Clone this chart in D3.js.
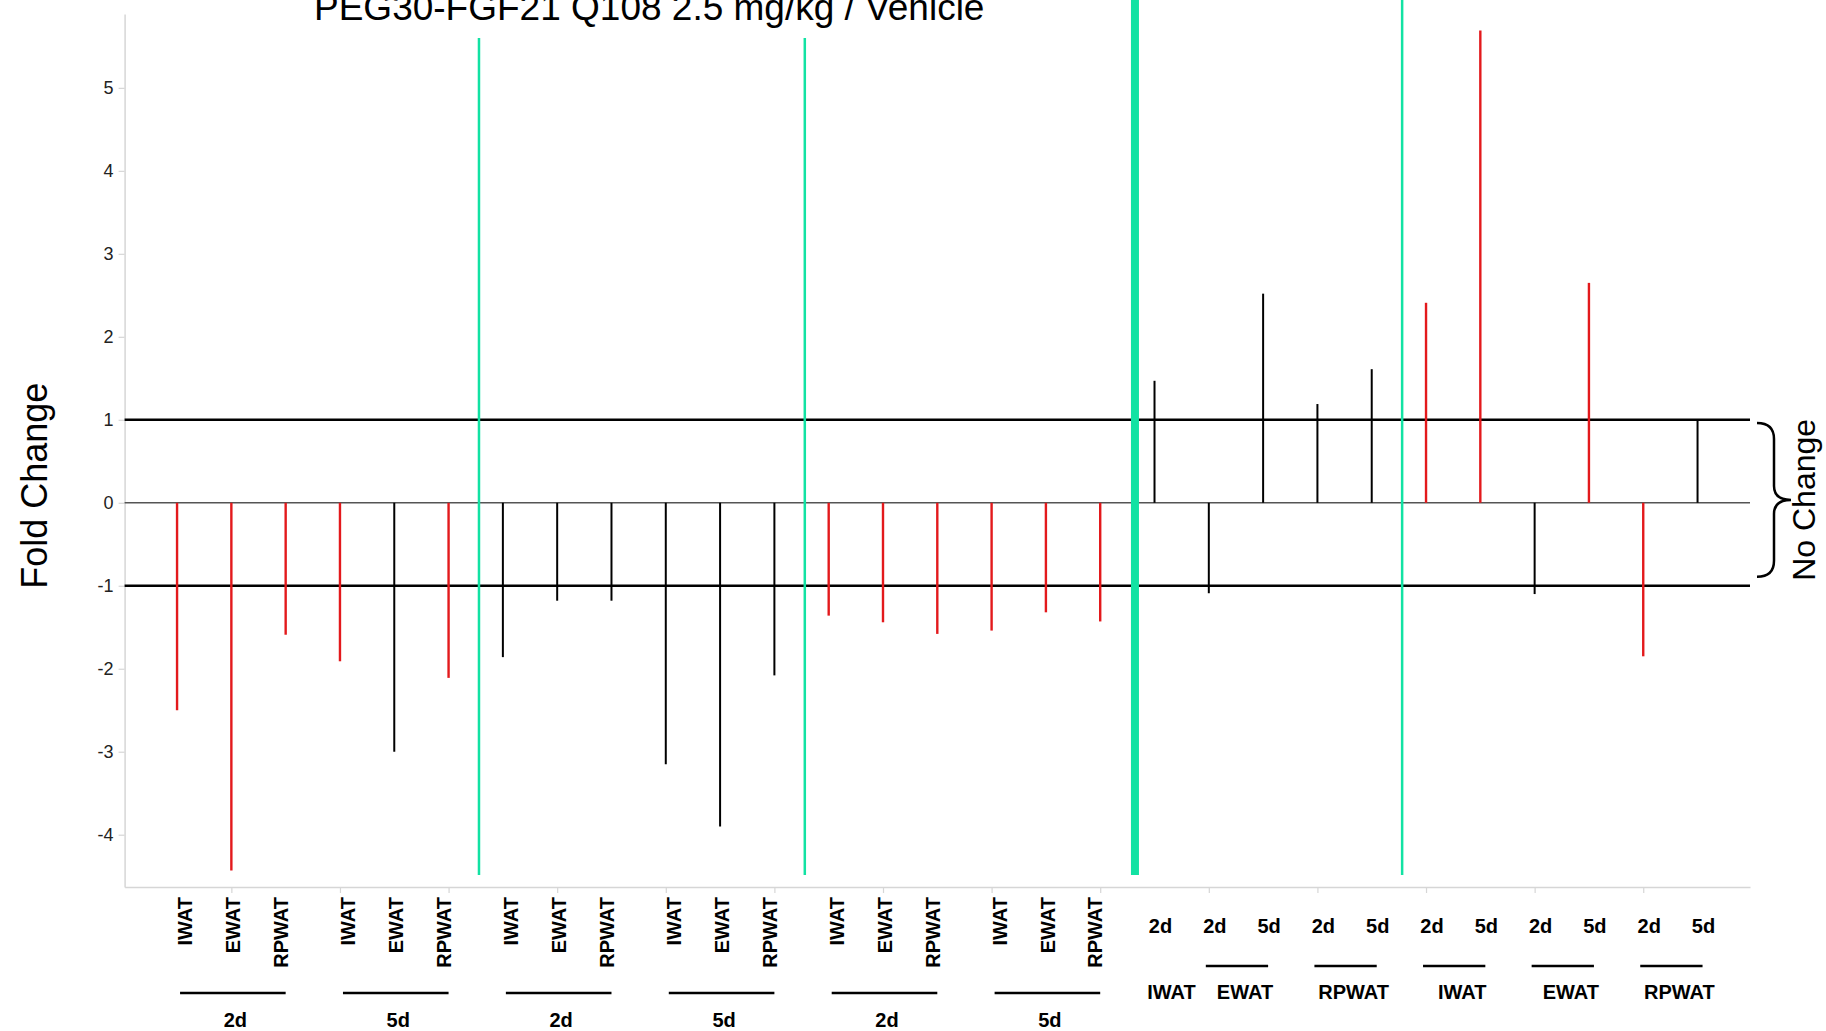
<!DOCTYPE html>
<html>
<head>
<meta charset="utf-8">
<script src="https://cdn.jsdelivr.net/npm/d3@7"></script>
<style>
  body { margin: 0; background: #fff; }
  text { font-family: "Liberation Sans", Arial, sans-serif; }
</style>
</head>
<body>
<div id="chart"></div>
<script>
// one entry per bar, left to right
const tissues = ['IWAT','EWAT','RPWAT','IWAT','EWAT','RPWAT',
                 'IWAT','EWAT','RPWAT','IWAT','EWAT','RPWAT',
                 'IWAT','EWAT','RPWAT','IWAT','EWAT','RPWAT',
                 'IWAT','EWAT','EWAT','RPWAT','RPWAT','IWAT','IWAT','EWAT','EWAT','RPWAT','RPWAT'];
const times = ['2d','2d','2d','5d','5d','5d',
               '2d','2d','2d','5d','5d','5d',
               '2d','2d','2d','5d','5d','5d',
               '2d','2d','5d','2d','5d','2d','5d','2d','5d','2d','5d'];
const values = [-2.50, -4.43, -1.59, -1.91, -3.00, -2.11,
                -1.86, -1.18, -1.18, -3.15, -3.90, -2.08,
                -1.36, -1.44, -1.58, -1.54, -1.32, -1.43,
                1.47, -1.09, 2.52, 1.19, 1.61, 2.41, 5.69, -1.10, 2.65, -1.85, 1.00];
// red bars = highlighted
const highlight = [1,1,1,1,0,1, 0,0,0,0,0,0, 1,1,1,1,1,1,
                   0,0,0,0,0,1,1,0,1,1,0];
const leftCount = 18;           // bars with rotated tissue labels
const dividersAfter = [5, 11, 17, 22];
const thickDivider = 17;
const yTicks = [-4, -3, -2, -1, 0, 1, 2, 3, 4, 5];
const refLines = [1, -1];
const title = 'PEG30-FGF21 Q108 2.5 mg/kg / Vehicle';

const W = 1826, H = 1031;
const red = '#e3191c', green = '#12e2a3', axisGray = '#d6d6d6';

const svg = d3.select('#chart').append('svg')
    .attr('width', W)
    .attr('height', H);

const idx = d3.range(values.length);
const x = d3.scalePoint().domain(idx).range([124.6, 1750]).padding(0.966);
const y = d3.scaleLinear().domain([-4.63, 5.89]).range([887, 14]);
const step = x.step();

// y axis
let yAxis = svg.append('g')
  .attr('transform', `translate(${x.range()[0]},0)`)
  .call(d3.axisLeft(y).tickValues(yTicks).tickSize(6).tickSizeOuter(0).tickPadding(5)
    .tickFormat(d => String(d)));
yAxis.select('.domain').attr('stroke', axisGray).attr('stroke-width', 1.5);
yAxis.selectAll('.tick line').attr('stroke', axisGray).attr('stroke-width', 1.2);
yAxis.selectAll('.tick text')
  .attr('font-size', 18)
  .attr('font-family', '"Liberation Sans", Arial, sans-serif')
  .attr('fill', '#222');

// x axis
let xAxis = svg.append('g')
  .attr('transform', `translate(0,${y.range()[0]})`)
  .call(d3.axisBottom(x).tickValues(idx.filter(i => i % 2 === 1)).tickSize(6).tickSizeOuter(0)
    .tickFormat(''));
xAxis.select('.domain').attr('stroke', axisGray).attr('stroke-width', 1.5);
xAxis.selectAll('.tick line').attr('stroke', axisGray).attr('stroke-width', 1.2);

// zero line and +/-1 lines
svg.append('line')
  .attr('x1', x.range()[0]).attr('x2', x.range()[1])
  .attr('y1', y(0)).attr('y2', y(0))
  .attr('stroke', '#555').attr('stroke-width', 1.5);
svg.selectAll('.ref')
  .data(refLines)
  .enter()
  .append('line')
    .attr('class', 'ref')
    .attr('x1', x.range()[0]).attr('x2', x.range()[1])
    .attr('y1', d => y(d)).attr('y2', d => y(d))
    .attr('stroke', '#000').attr('stroke-width', 2.4);

// bars as vertical lines from zero
svg.selectAll('.bar')
  .data(idx)
  .enter()
  .append('line')
    .attr('class', 'bar')
    .attr('x1', i => x(i)).attr('x2', i => x(i))
    .attr('y1', y(0)).attr('y2', i => y(values[i]))
    .attr('stroke', i => highlight[i] ? red : '#000')
    .attr('stroke-width', i => highlight[i] ? 2.4 : 2);

// green dividers
svg.selectAll('.divider')
  .data(dividersAfter)
  .enter()
  .append('line')
    .attr('class', 'divider')
    .attr('x1', d => x(d) + step * (d === thickDivider ? 0.64 : 0.56))
    .attr('x2', d => x(d) + step * (d === thickDivider ? 0.64 : 0.56))
    .attr('y1', d => d < thickDivider ? 38 : 0)
    .attr('y2', 875)
    .attr('stroke', green)
    .attr('stroke-width', d => d === thickDivider ? 8 : 2.5);

// title (runs off the top edge, as in the source figure)
svg.append('text')
  .attr('x', 314).attr('y', 20)
  .attr('font-size', 37)
  .text(title);

// y axis title
svg.append('text')
  .attr('transform', `translate(47,${y(0) - 17}) rotate(-90)`)
  .attr('text-anchor', 'middle')
  .attr('font-size', 36)
  .text('Fold Change');

// brace + "No Change"
const bx = x.range()[1] + 7, bTop = y(0.96), bBot = y(-0.89), bMid = (bTop + bBot) / 2;
const brace = d3.path();
brace.moveTo(bx, bTop);
brace.quadraticCurveTo(bx + 17, bTop, bx + 17, bTop + 16);
brace.lineTo(bx + 17, bMid - 14);
brace.quadraticCurveTo(bx + 17, bMid, bx + 34, bMid);
brace.quadraticCurveTo(bx + 17, bMid, bx + 17, bMid + 14);
brace.lineTo(bx + 17, bBot - 16);
brace.quadraticCurveTo(bx + 17, bBot, bx, bBot);
svg.append('path')
  .attr('d', brace.toString())
  .attr('fill', 'none')
  .attr('stroke', '#000')
  .attr('stroke-width', 2.5);
svg.append('text')
  .attr('transform', `translate(1815,${bMid}) rotate(-90)`)
  .attr('text-anchor', 'middle')
  .attr('font-size', 32)
  .text('No Change');

// left part: rotated tissue labels, underline, time label
const leftIdx = idx.filter(i => i < leftCount);
svg.selectAll('.tlabel')
  .data(leftIdx)
  .enter()
  .append('text')
    .attr('class', 'tlabel')
    .attr('transform', i => `translate(${x(i) + 8 - 6.5 * (i % 3)},897) rotate(-90)`)
    .attr('text-anchor', 'end')
    .attr('dy', '0.36em')
    .attr('font-size', 20)
    .attr('font-weight', 'bold')
    .text(i => tissues[i]);

const leftGroups = d3.range(leftCount / 3).map(g => [g * 3, g * 3 + 2]);
svg.selectAll('.lgline')
  .data(leftGroups)
  .enter()
  .append('line')
    .attr('class', 'lgline')
    .attr('x1', d => x(d[0]) + 3).attr('x2', d => x(d[1]))
    .attr('y1', 993).attr('y2', 993)
    .attr('stroke', '#000').attr('stroke-width', 2.3);
svg.selectAll('.lglabel')
  .data(leftGroups)
  .enter()
  .append('text')
    .attr('class', 'lglabel')
    .attr('x', d => (x(d[0]) + x(d[1])) / 2 + 4)
    .attr('y', 1027)
    .attr('text-anchor', 'middle')
    .attr('font-size', 20)
    .attr('font-weight', 'bold')
    .text(d => times[d[0]]);

// right part: time labels, then tissue groups
const rightIdx = idx.filter(i => i >= leftCount);
svg.selectAll('.rtime')
  .data(rightIdx)
  .enter()
  .append('text')
    .attr('class', 'rtime')
    .attr('x', i => x(i) + 6)
    .attr('y', 933)
    .attr('text-anchor', 'middle')
    .attr('font-size', 20)
    .attr('font-weight', 'bold')
    .text(i => times[i]);

let rightGroups = [];
rightIdx.forEach(i => {
  let last = rightGroups[rightGroups.length - 1];
  if (last && tissues[last[1]] === tissues[i] && last[1] === i - 1) last[1] = i;
  else rightGroups.push([i, i]);
});
svg.selectAll('.rgline')
  .data(rightGroups.filter(d => d[1] > d[0]))
  .enter()
  .append('line')
    .attr('class', 'rgline')
    .attr('x1', d => x(d[0]) - 3).attr('x2', d => x(d[1]) + 5)
    .attr('y1', 966).attr('y2', 966)
    .attr('stroke', '#000').attr('stroke-width', 2.3);
svg.selectAll('.rglabel')
  .data(rightGroups)
  .enter()
  .append('text')
    .attr('class', 'rglabel')
    .attr('x', d => (x(d[0]) + x(d[1])) / 2 + (d[1] > d[0] ? 9 : 17))
    .attr('y', 999)
    .attr('text-anchor', 'middle')
    .attr('font-size', 20)
    .attr('font-weight', 'bold')
    .text(d => tissues[d[0]]);
</script>
</body>
</html>
